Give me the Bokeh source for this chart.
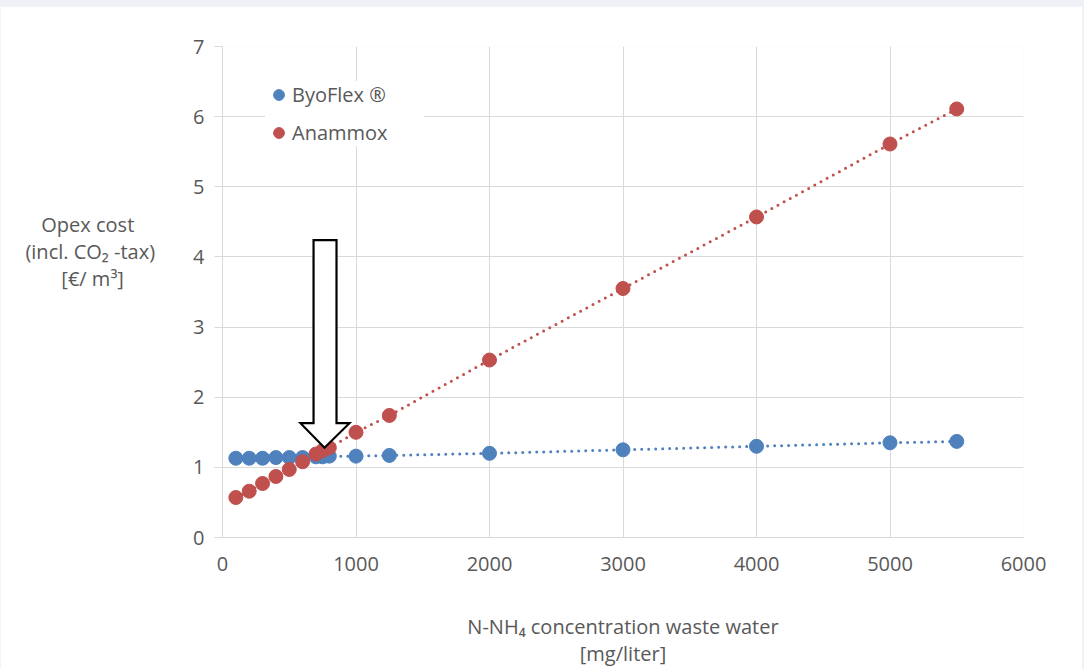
from bokeh.plotting import figure
from bokeh.layouts import column
from bokeh.models import Range1d, Legend, LegendItem, FixedTicker
from bokeh.embed import file_html
from bokeh.resources import INLINE

# ---- data ----
concentration = [100, 200, 300, 400, 500, 600, 700, 750, 800, 1000, 1250, 2000, 3000, 4000, 5000, 5500]
byoflex = [1.13, 1.13, 1.13, 1.14, 1.14, 1.14, 1.15, 1.15, 1.16, 1.16, 1.17, 1.20, 1.25, 1.30, 1.35, 1.37]
anammox = [0.57, 0.66, 0.77, 0.87, 0.97, 1.08, 1.19, 1.24, 1.28, 1.50, 1.74, 2.53, 3.55, 4.57, 5.61, 6.11]
x_ticks = [0, 1000, 2000, 3000, 4000, 5000, 6000]
y_ticks = [0, 1, 2, 3, 4, 5, 6, 7]

# arrow annotation (data units)
arrow_x = [682, 854, 854, 951, 764, 584, 682]
arrow_y = [4.24, 4.24, 1.63, 1.63, 1.28, 1.63, 1.63]

BLUE = "#4f81bd"
RED = "#c0504d"
GRID = "#d9d9d9"
TXT = "#595959"
FONT = "Open Sans"
FS = "20px"
NB = "\u00a0"

p = figure(width=1082, height=663, output_backend="svg", toolbar_location=None,
           x_range=Range1d(0, 6000), y_range=Range1d(0, 7),
           min_border_left=222, min_border_right=59, min_border_top=40, min_border_bottom=132)
p.background_fill_color = "white"
p.border_fill_color = "white"
p.outline_line_color = None

p.xgrid.grid_line_color = GRID
p.ygrid.grid_line_color = GRID
p.xaxis.ticker = FixedTicker(ticks=x_ticks)
p.yaxis.ticker = FixedTicker(ticks=y_ticks)

for ax in (p.xaxis[0], p.yaxis[0]):
    ax.axis_line_color = GRID
    ax.major_tick_line_color = GRID
    ax.minor_tick_line_color = None
    ax.major_tick_in = 0
    ax.major_label_text_font = FONT
    ax.major_label_text_font_size = FS
    ax.major_label_text_color = TXT
    ax.axis_label_text_font = FONT
    ax.axis_label_text_font_size = FS
    ax.axis_label_text_font_style = "normal"
    ax.axis_label_text_color = TXT
    ax.axis_label_text_line_height = 1.0
p.yaxis.major_tick_out = 8
p.yaxis.major_label_standoff = 10
p.xaxis.major_tick_out = 0
p.xaxis.major_label_standoff = 19

p.xaxis.axis_label = "N-NH\u2084 concentration waste water\n[mg/liter]"
p.xaxis.axis_label_standoff = 39

p.yaxis.axis_label = ("Opex cost" + NB * 4 + "\n(incl. CO\u2082 -tax)\n[\u20ac/ m\u00b3]" + NB * 6
                      + "\n" + NB + "\n" + NB + "\n" + NB)
p.yaxis.axis_label_orientation = "horizontal"
p.yaxis.axis_label_standoff = 35

p.line(concentration, byoflex, line_color=BLUE, line_width=3, line_dash="0 7", line_cap="round")
p.line(concentration, anammox, line_color=RED, line_width=3, line_dash="0 7", line_cap="round")
r_b = p.scatter(concentration, byoflex, size=14, fill_color=BLUE, line_color=BLUE)
r_a = p.scatter(concentration, anammox, size=14, fill_color=RED, line_color=RED)

p.patch(arrow_x, arrow_y, fill_color="white", line_color="black", line_width=2.2, line_join="miter")

legend = Legend(items=[LegendItem(label="ByoFlex \u00ae", renderers=[r_b]),
                       LegendItem(label="Anammox", renderers=[r_a])],
                location=(43, 391), orientation="vertical",
                glyph_width=27, glyph_height=27, label_height=27, label_width=132, spacing=11,
                padding=4, label_standoff=0, margin=0,
                label_text_font=FONT, label_text_font_size=FS, label_text_color=TXT,
                background_fill_color="white", background_fill_alpha=1, border_line_color=None)
p.add_layout(legend)

page = column(p, styles={"background-color": "#eef2f6", "padding-top": "6px", "padding-right": "2px"})

open("out.html", "w").write(file_html(page, INLINE))
